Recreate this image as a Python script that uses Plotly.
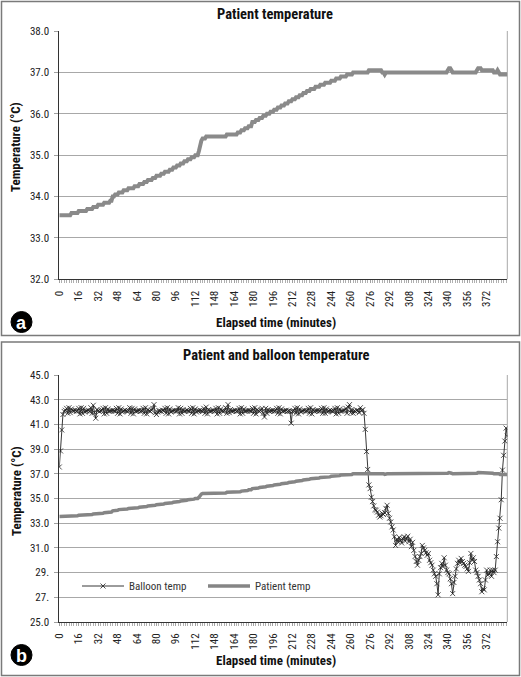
import plotly.graph_objects as go

# ---------------- data ----------------
# elapsed time in minutes (one reading per minute, with a gap between 112 and 133)
minutes = list(range(0, 113)) + list(range(133, 390))

tick_labels = [0, 16, 32, 48, 64, 80, 96, 112, 148, 164, 180, 196, 212, 228,
               244, 260, 276, 292, 308, 324, 340, 356, 372]

patient_temp = [
    33.55, 33.55, 33.55, 33.55, 33.55, 33.55, 33.55, 33.55, 33.55, 33.55,
    33.60, 33.60, 33.60, 33.60, 33.60, 33.60, 33.65, 33.65, 33.65, 33.65,
    33.65, 33.65, 33.65, 33.70, 33.70, 33.70, 33.70, 33.70, 33.75, 33.75,
    33.75, 33.75, 33.80, 33.80, 33.80, 33.80, 33.80, 33.85, 33.85, 33.85,
    33.85, 33.85, 33.90, 33.90, 34.00, 34.00, 34.05, 34.05, 34.05, 34.10,
    34.10, 34.10, 34.10, 34.15, 34.15, 34.15, 34.15, 34.20, 34.20, 34.20,
    34.20, 34.20, 34.25, 34.25, 34.25, 34.25, 34.30, 34.30, 34.30, 34.30,
    34.35, 34.35, 34.35, 34.40, 34.40, 34.40, 34.40, 34.45, 34.45, 34.45,
    34.50, 34.50, 34.50, 34.50, 34.55, 34.55, 34.55, 34.60, 34.60, 34.60,
    34.60, 34.65, 34.65, 34.65, 34.70, 34.70, 34.70, 34.75, 34.75, 34.75,
    34.80, 34.80, 34.80, 34.85, 34.85, 34.85, 34.90, 34.90, 34.90, 34.95,
    34.95, 34.95, 35.00, 35.00, 35.00, 35.10, 35.25, 35.35, 35.40, 35.40,
    35.40, 35.45, 35.45, 35.45, 35.45, 35.45, 35.45, 35.45, 35.45, 35.45,
    35.45, 35.45, 35.45, 35.45, 35.45, 35.45, 35.45, 35.45, 35.50, 35.50,
    35.50, 35.50, 35.50, 35.50, 35.50, 35.50, 35.50, 35.55, 35.55, 35.55,
    35.60, 35.60, 35.60, 35.65, 35.65, 35.65, 35.70, 35.70, 35.70, 35.80,
    35.80, 35.80, 35.85, 35.85, 35.85, 35.90, 35.90, 35.90, 35.95, 35.95,
    35.95, 36.00, 36.00, 36.00, 36.05, 36.05, 36.05, 36.10, 36.10, 36.10,
    36.15, 36.15, 36.15, 36.20, 36.20, 36.20, 36.25, 36.25, 36.25, 36.30,
    36.30, 36.30, 36.35, 36.35, 36.35, 36.40, 36.40, 36.40, 36.45, 36.45,
    36.45, 36.50, 36.50, 36.50, 36.55, 36.55, 36.55, 36.60, 36.60, 36.60,
    36.60, 36.65, 36.65, 36.65, 36.65, 36.70, 36.70, 36.70, 36.70, 36.75,
    36.75, 36.75, 36.75, 36.75, 36.80, 36.80, 36.80, 36.80, 36.85, 36.85,
    36.85, 36.85, 36.90, 36.90, 36.90, 36.90, 36.90, 36.95, 36.95, 36.95,
    36.95, 36.95, 37.00, 37.00, 37.00, 37.00, 37.00, 37.00, 37.00, 37.00,
    37.00, 37.00, 37.00, 37.00, 37.00, 37.05, 37.05, 37.05, 37.05, 37.05,
    37.05, 37.05, 37.05, 37.05, 37.05, 37.05, 37.00, 37.00, 36.95, 37.00,
    37.00, 37.00, 37.00, 37.00, 37.00, 37.00, 37.00, 37.00, 37.00, 37.00,
    37.00, 37.00, 37.00, 37.00, 37.00, 37.00, 37.00, 37.00, 37.00, 37.00,
    37.00, 37.00, 37.00, 37.00, 37.00, 37.00, 37.00, 37.00, 37.00, 37.00,
    37.00, 37.00, 37.00, 37.00, 37.00, 37.00, 37.00, 37.00, 37.00, 37.00,
    37.00, 37.00, 37.00, 37.00, 37.00, 37.00, 37.00, 37.00, 37.00, 37.00,
    37.05, 37.10, 37.10, 37.05, 37.00, 37.00, 37.00, 37.00, 37.00, 37.00,
    37.00, 37.00, 37.00, 37.00, 37.00, 37.00, 37.00, 37.00, 37.00, 37.00,
    37.00, 37.00, 37.00, 37.00, 37.05, 37.10, 37.10, 37.10, 37.05, 37.05,
    37.05, 37.05, 37.05, 37.05, 37.05, 37.05, 37.05, 37.05, 37.00, 37.00,
    37.00, 37.05, 37.00, 36.95, 36.95, 36.95, 36.95, 36.95, 36.95, 36.95,
]

balloon_temp = [
    37.55, 38.85, 40.55, 41.80, 42.05, 42.15, 42.30, 41.90, 42.35, 41.95,
    42.25, 42.10, 42.10, 42.15, 42.05, 42.10, 42.30, 41.85, 42.35, 41.90,
    42.30, 42.00, 42.10, 42.10, 42.15, 42.05, 42.35, 41.90, 42.55, 41.95,
    41.50, 42.20, 42.10, 42.05, 42.10, 42.15, 42.30, 41.85, 42.35, 41.90,
    42.25, 42.05, 42.10, 42.10, 42.15, 42.10, 42.05, 42.30, 41.90, 42.35,
    41.85, 42.25, 42.00, 42.10, 42.15, 42.10, 42.05, 42.10, 42.35, 41.90,
    42.30, 41.85, 42.25, 42.05, 42.10, 42.10, 42.15, 42.05, 42.10, 42.30,
    41.90, 42.35, 41.85, 42.20, 42.10, 42.05, 42.15, 42.30, 42.60, 41.95,
    41.80, 42.00, 42.10, 42.10, 42.05, 42.15, 42.10, 42.30, 41.90, 42.35,
    41.85, 42.25, 42.00, 42.10, 42.10, 42.15, 42.05, 42.10, 42.35, 41.85,
    42.30, 41.90, 42.20, 42.05, 42.10, 42.15, 42.10, 42.05, 42.30, 41.90,
    42.35, 41.85, 42.25, 42.00, 42.10, 42.10, 42.15, 42.10, 42.05, 42.30,
    41.90, 42.40, 41.85, 42.20, 42.05, 42.10, 42.10, 42.15, 42.05, 42.30,
    41.85, 42.35, 41.90, 42.25, 42.10, 42.05, 42.10, 42.35, 41.90, 42.60,
    41.95, 42.20, 42.05, 42.10, 42.10, 42.15, 42.05, 42.10, 42.30, 41.85,
    42.35, 41.90, 42.25, 42.05, 42.10, 42.10, 42.15, 42.10, 42.05, 42.30,
    41.90, 42.35, 41.85, 42.20, 42.10, 42.05, 42.15, 42.30, 41.90, 41.60,
    42.30, 41.90, 42.20, 42.05, 42.10, 42.10, 42.15, 42.05, 42.10, 42.30,
    41.90, 42.35, 41.85, 42.25, 42.05, 42.10, 42.10, 42.15, 42.05, 42.10,
    42.05, 41.10, 42.05, 42.10, 42.30, 41.90, 42.35, 41.85, 42.25, 42.00,
    42.10, 42.10, 42.15, 42.05, 42.10, 42.30, 41.90, 42.35, 41.85, 42.20,
    42.05, 42.10, 42.10, 42.15, 42.05, 42.10, 42.30, 41.90, 42.35, 41.90,
    42.25, 42.00, 42.10, 42.15, 42.10, 42.05, 42.10, 42.30, 41.85, 42.35,
    41.90, 42.25, 42.05, 42.10, 42.10, 42.15, 42.30, 41.90, 42.40, 42.60,
    41.95, 42.20, 41.90, 42.10, 42.05, 42.15, 42.10, 41.95, 42.35, 42.10,
    42.20, 41.90, 40.60, 38.80, 37.35, 36.10, 35.80, 35.10, 34.75, 34.40,
    34.10, 34.05, 33.90, 33.65, 33.50, 33.60, 33.80, 33.70, 33.85, 34.20,
    34.45, 33.80, 33.40, 33.10, 32.70, 32.45, 31.90, 31.20, 31.70, 31.50,
    31.85, 31.60, 31.40, 31.75, 31.90, 31.55, 31.80, 31.95, 31.50, 31.70,
    31.10, 31.45, 30.80, 30.30, 29.90, 29.60, 30.00, 30.30, 30.55, 31.20,
    31.00, 30.80, 30.60, 30.40, 30.55, 30.00, 29.80, 29.60, 29.20, 28.90,
    28.70, 28.10, 27.20, 28.90, 29.40, 29.75, 29.50, 30.20, 29.60, 29.20,
    29.00, 28.90, 28.50, 28.10, 27.30, 28.20, 28.70, 29.30, 29.75, 30.00,
    29.80, 30.15, 29.90, 29.75, 29.60, 29.50, 29.30, 29.10, 29.80, 30.55,
    30.00, 30.20, 29.90, 29.20, 29.00, 28.70, 28.40, 28.10, 27.45, 27.70,
    27.60, 28.40, 29.20, 28.80, 28.90, 29.20, 28.70, 29.20, 29.00, 29.20,
    30.30, 31.50, 32.60, 33.40, 34.90, 37.30, 38.50, 39.65, 40.70, 40.05,
]

yticks_b = [25, 27, 29, 31, 33, 35, 37, 39, 41, 43, 45]
yticks_b_text = ["25.0", "27.", "29.", "31.0", "33.0", "35.0", "37.0", "39.0",
                 "41.0", "43.0", "45.0"]

# ---------------- figure ----------------
W, H = 521, 677
FONT = "Roboto Condensed, Open Sans Condensed, Liberation Sans, Arial, sans-serif"
GRAY = "#8a8a8a"
GRID = "#a8a8a8"


def fx(p):
    return p / W


def fy(p):
    return 1 - p / H


x_idx = list(range(len(minutes)))
tickvals = [minutes.index(m) for m in tick_labels]

fig = go.Figure()
fig.add_trace(go.Scatter(x=x_idx, y=patient_temp, mode="lines", name="Patient temp",
                         line=dict(color=GRAY, width=4), showlegend=False,
                         xaxis="x", yaxis="y", hoverinfo="skip"))
fig.add_trace(go.Scatter(x=x_idx, y=balloon_temp, mode="lines+markers", name="Balloon temp",
                         line=dict(color="#222222", width=0.9),
                         marker=dict(symbol="x-thin", size=5, color="#222222",
                                     line=dict(width=0.8, color="#222222")),
                         xaxis="x2", yaxis="y2", hoverinfo="skip"))
fig.add_trace(go.Scatter(x=x_idx, y=patient_temp, mode="lines", name="Patient temp",
                         line=dict(color="#858585", width=3.5),
                         xaxis="x2", yaxis="y2", hoverinfo="skip"))

xcommon = dict(
    range=[0, len(minutes) - 1], tickmode="array", tickvals=tickvals,
    ticktext=[str(t) for t in tick_labels], tickangle=-90,
    showgrid=False, zeroline=False, showline=True, linecolor="#333333", linewidth=1,
    ticks="outside", ticklen=3, tickcolor="#a0a0a0", tickwidth=1,
    minor=dict(tick0=0, dtick=2, ticks="outside", ticklen=3, tickcolor="#b0b0b0",
               tickwidth=1, showgrid=False),
    tickfont=dict(size=11, color="#222222", family=FONT),
    ticklabelstandoff=3, automargin=False, fixedrange=True,
    domain=[fx(59.3), fx(507.3)],
)
ycommon = dict(
    showgrid=True, gridcolor=GRID, gridwidth=1, zeroline=False,
    showline=True, linecolor="#333333", linewidth=1,
    ticks="outside", ticklen=4, tickcolor="#a0a0a0",
    tickfont=dict(size=11, color="#222222", family=FONT),
    ticklabelstandoff=3, automargin=False, fixedrange=True,
)

fig.update_layout(
    width=W, height=H, margin=dict(l=0, r=0, t=0, b=0),
    paper_bgcolor="white", plot_bgcolor="white",
    font=dict(family=FONT, color="#222222"),
    xaxis=dict(**xcommon, anchor="y"),
    yaxis=dict(**ycommon, range=[32, 38], dtick=1, tick0=32, tickformat=".1f",
               domain=[fy(279.3), fy(31)], anchor="x"),
    xaxis2=dict(**xcommon, anchor="y2"),
    yaxis2=dict(**ycommon, range=[25, 45], tickmode="array", tickvals=yticks_b,
                ticktext=yticks_b_text, domain=[fy(622), fy(375)], anchor="x2"),
    showlegend=True,
    legend=dict(orientation="h", x=fx(77), y=fy(586), xanchor="left", yanchor="middle",
                font=dict(size=11, family=FONT, color="#333333"),
                bgcolor="rgba(0,0,0,0)", entrywidth=69, itemwidth=42),
)

shapes = []
# panel frames
for (top, bot) in [(1.5, 335.5), (342, 675.5)]:
    shapes.append(dict(type="rect", xref="paper", yref="paper",
                       x0=fx(1.5), x1=fx(519.5), y0=fy(bot), y1=fy(top),
                       line=dict(color="#7a7a7a", width=1.5), layer="below"))
# plot-area right borders
for xr, yr in [("x domain", "y domain"), ("x2 domain", "y2 domain")]:
    shapes.append(dict(type="line", xref=xr, yref=yr, x0=1, x1=1, y0=0, y1=1,
                       line=dict(color=GRID, width=1), layer="below"))
# letter badges
for cy in [322, 655]:
    shapes.append(dict(type="circle", xref="paper", yref="paper",
                       x0=fx(21.5 - 10.5), x1=fx(21.5 + 10.5),
                       y0=fy(cy + 10.5), y1=fy(cy - 10.5),
                       fillcolor="black", line=dict(color="black", width=1)))
fig.update_layout(shapes=shapes)

ann = []
for txt, cx, cy, size in [("Patient temperature", 275, 15, 14.5),
                          ("Patient and balloon temperature", 276, 355, 14.5),
                          ("Elapsed time (minutes)", 276, 322, 13),
                          ("Elapsed time (minutes)", 276, 660, 13)]:
    ann.append(dict(text=txt, xref="paper", yref="paper", x=fx(cx), y=fy(cy),
                    xanchor="center", yanchor="middle", showarrow=False,
                    font=dict(size=size, family=FONT, color="#111111", weight="bold")))
for cy in [147, 491]:
    ann.append(dict(text="Temperature (°C)", xref="paper", yref="paper", x=fx(16), y=fy(cy),
                    xanchor="center", yanchor="middle", showarrow=False, textangle=-90,
                    font=dict(size=13, family=FONT, color="#111111", weight="bold")))
for letter, cy in [("a", 322), ("b", 655)]:
    ann.append(dict(text=letter, xref="paper", yref="paper", x=fx(21.5), y=fy(cy + 1),
                    xanchor="center", yanchor="middle", showarrow=False,
                    font=dict(size=18, family="Liberation Sans, Arial, sans-serif",
                              color="white", weight="bold")))
fig.update_layout(annotations=ann)

fig.write_html("out.html", config={"displayModeBar": False},
               post_script="document.body.style.margin='0';")
